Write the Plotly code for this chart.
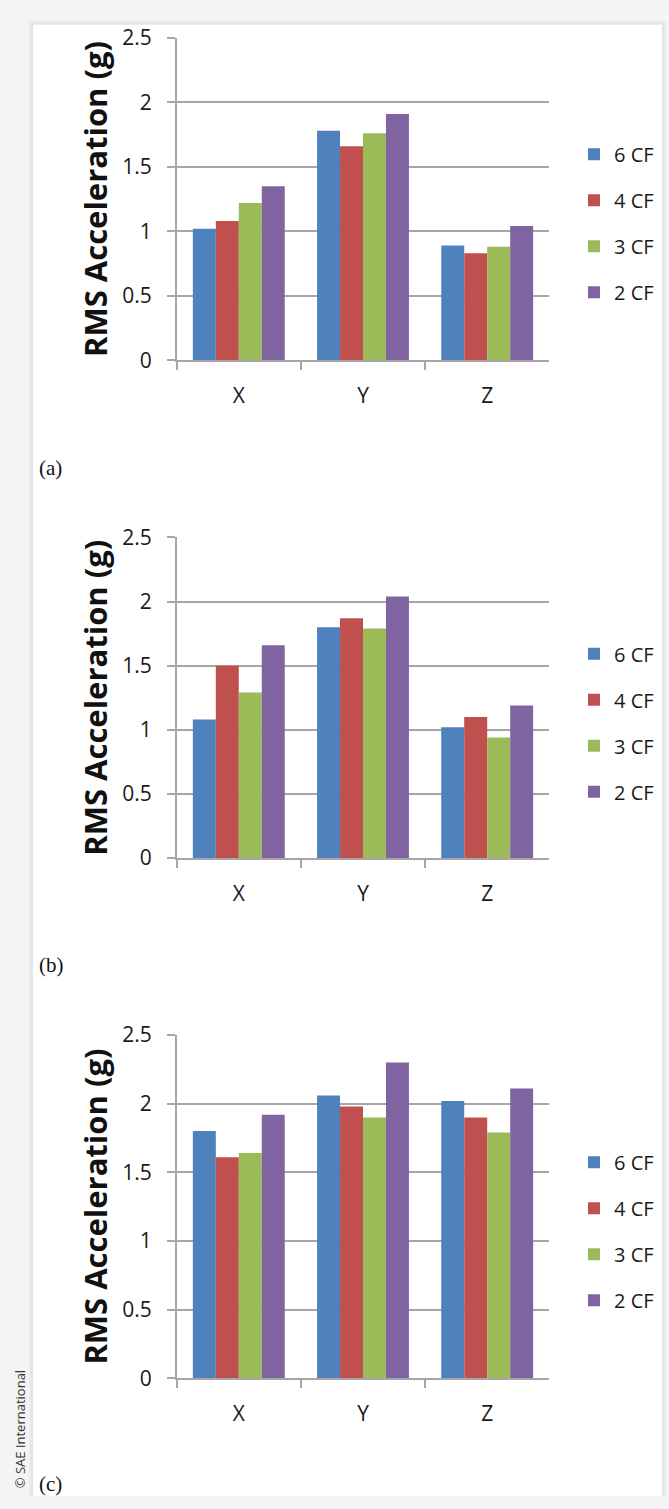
import plotly.graph_objects as go

W, H = 669, 1509

categories = ["X", "Y", "Z"]
series_names = ["6 CF", "4 CF", "3 CF", "2 CF"]
colors = ["#4F81BD", "#C0504D", "#9BBB59", "#8064A2"]

# panel (a)
a_6cf = [1.02, 1.78, 0.89]
a_4cf = [1.08, 1.66, 0.83]
a_3cf = [1.22, 1.76, 0.88]
a_2cf = [1.35, 1.91, 1.04]
# panel (b)
b_6cf = [1.08, 1.80, 1.02]
b_4cf = [1.50, 1.87, 1.10]
b_3cf = [1.29, 1.79, 0.94]
b_2cf = [1.66, 2.04, 1.19]
# panel (c)
c_6cf = [1.80, 2.06, 2.02]
c_4cf = [1.61, 1.98, 1.90]
c_3cf = [1.64, 1.90, 1.79]
c_2cf = [1.92, 2.30, 2.11]

panels = [
    ("(a)", [a_6cf, a_4cf, a_3cf, a_2cf]),
    ("(b)", [b_6cf, b_4cf, b_3cf, b_2cf]),
    ("(c)", [c_6cf, c_4cf, c_3cf, c_2cf]),
]

y_ticks = [0, 0.5, 1, 1.5, 2, 2.5]
y_tick_text = ["0", "0.5", "1", "1.5", "2", "2.5"]
y_title = "RMS Acceleration (g)"

# pixel layout (top, bottom of plot area), legend top, label y
plot_px = [(23.3, 351.7), (532.3, 859.0), (1039.3, 1389.0)]
legend_top_px = [122, 631, 1149]
label_px = [461.7, 968, 1497]
x_left_px, x_right_px = 176.7, 549.3


def px_x(v):
    return v / W


def px_y(v):
    return 1 - v / H


fig = go.Figure()
grid_col = "#A6A6A6"
font_main = "Open Sans"

for i, (label, vals) in enumerate(panels):
    ax = "" if i == 0 else str(i + 1)
    lg = "legend" if i == 0 else f"legend{i + 1}"
    for j, (name, v) in enumerate(zip(series_names, vals)):
        fig.add_trace(go.Bar(
            x=categories, y=v, name=name,
            marker=dict(color=colors[j], line=dict(width=0)),
            xaxis="x" + ax, yaxis="y" + ax,
            legend=lg, legendgroup=f"{lg}_{j}", showlegend=True,
        ))
    top, bot = plot_px[i]
    fig.update_layout(**{
        "xaxis" + ax: dict(
            domain=[px_x(x_left_px), px_x(x_right_px)], anchor="y" + ax,
            showline=True, linecolor=grid_col, linewidth=1.5,
            ticks="outside", tickson="boundaries", ticklen=8, tickcolor=grid_col, tickwidth=1.5,
            tickfont=dict(family=font_main, size=21, color="#1a1a1a"),
            ticklabelstandoff=16, showgrid=False,
        ),
        "yaxis" + ax: dict(
            domain=[px_y(bot), px_y(top)], anchor="x" + ax,
            range=[0, 2.5], tickvals=y_ticks, ticktext=y_tick_text,
            showline=True, linecolor=grid_col, linewidth=1.5,
            ticks="outside", ticklen=8, tickcolor=grid_col, tickwidth=1.5,
            showgrid=True, gridcolor=grid_col, gridwidth=1.5, zeroline=False,
            tickfont=dict(family=font_main, size=21, color="#1a1a1a"),
            ticklabelstandoff=11,
        ),
        lg: dict(
            x=px_x(574), xanchor="left", y=px_y(legend_top_px[i]), yanchor="top",
            bgcolor="rgba(0,0,0,0)", borderwidth=0,
            font=dict(family=font_main, size=20, color="#1a1a1a"),
            tracegroupgap=17, itemclick=False,
        ),
    })
    fig.add_annotation(
        text="<b>" + y_title + "</b>", textangle=-90,
        x=px_x(95), y=px_y((top + bot) / 2), xref="paper", yref="paper",
        showarrow=False, font=dict(family=font_main, size=31, color="#111"),
        xanchor="center", yanchor="middle",
    )
    fig.add_annotation(
        text=label, x=px_x(37), y=px_y(label_px[i]), xref="paper", yref="paper",
        showarrow=False, xanchor="left", yanchor="middle",
        font=dict(family="Liberation Serif", size=21, color="#111"),
    )

fig.add_annotation(
    text="© SAE International", textangle=-90,
    x=px_x(20), y=px_y(1441), xref="paper", yref="paper",
    showarrow=False, xanchor="center", yanchor="middle",
    font=dict(family=font_main, size=13, color="#333"),
)

# card background with soft shadow
shapes = []
for k, col in enumerate(["#ebebeb", "#e4e4e4"]):
    off = 4 - 2 * k
    shapes.append(dict(type="rect", xref="paper", yref="paper", layer="below",
                       x0=px_x(33 - off), x1=px_x(662 + off), y0=0, y1=px_y(10 - off),
                       fillcolor=col, line=dict(width=0)))
shapes.append(dict(type="rect", xref="paper", yref="paper", layer="below",
                   x0=px_x(33), x1=px_x(662), y0=0, y1=px_y(10),
                   fillcolor="white", line=dict(width=0)))

fig.update_layout(
    width=W, height=H, autosize=False,
    margin=dict(l=0, r=0, t=0, b=0),
    paper_bgcolor="#f4f4f4", plot_bgcolor="white",
    barmode="group", bargap=0.26, bargroupgap=0,
    shapes=shapes, showlegend=True,
)

fig.write_html("out.html", config={"displayModeBar": False},
               post_script="document.body.style.margin='0';")
